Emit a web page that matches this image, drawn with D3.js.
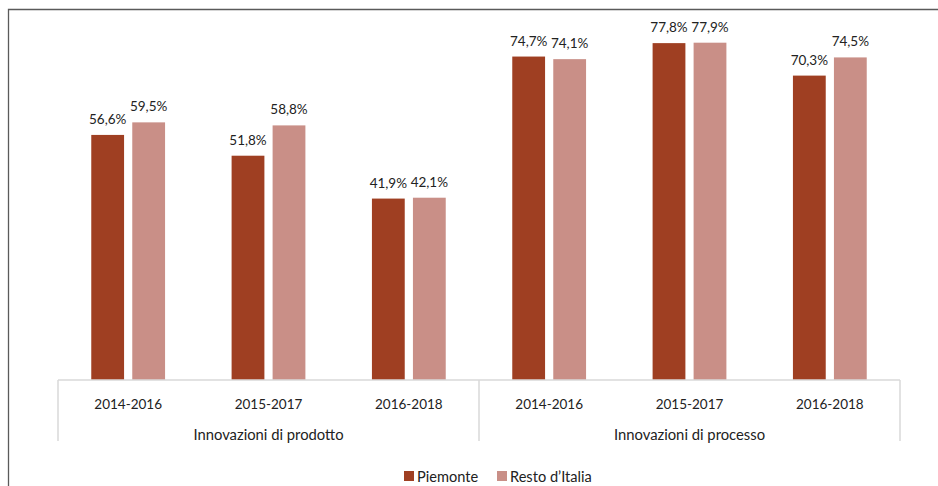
<!DOCTYPE html>
<html>
<head>
<meta charset="utf-8">
<script src="https://cdn.jsdelivr.net/npm/d3@7"></script>
<style>
  html, body { margin: 0; padding: 0; background: #fff; }
  svg { display: block; font-family: Lato, "Open Sans", sans-serif; }
</style>
</head>
<body>
<svg id="chart" width="938" height="486"></svg>
<script>
// Periods shown for each innovation type
const periods = ["2014-2016", "2015-2017", "2016-2018"];
const groups = ["Innovazioni di prodotto", "Innovazioni di processo"];
const seriesNames = ["Piemonte", "Resto d\u2019Italia"];
const seriesColors = ["#9F3F22", "#C98F87"];

// Share of firms (%) per period: product first, then process
const piemonte = [56.6, 51.8, 41.9, 74.7, 77.8, 70.3];
const restoItalia = [59.5, 58.8, 42.1, 74.1, 77.9, 74.5];

const categories = [];
groups.forEach((g, gi) => periods.forEach((p, pi) => categories.push({ id: gi + "|" + p, period: p, group: g, gi })));
const rows = categories.map((c, i) => ({ ...c, values: [piemonte[i], restoItalia[i]] }));

const svg = d3.select("#chart");
const left = 58, right = 900, baseY = 380;

const x0 = d3.scaleBand().domain(categories.map(c => c.id)).range([left, right]).padding(0);
const x1 = d3.scaleBand().domain(seriesNames).range([-41, 41]).paddingInner(0.2).paddingOuter(0.1);
const y = d3.scaleLinear().domain([0, 80]).range([baseY, 33.6]);
const fmt = v => d3.format(".1f")(v).replace(".", ",") + "%";

// Outer frame (top and left edges)
svg.append("path")
  .attr("d", "M8.5,486 V9.5 H938")
  .attr("fill", "none").attr("stroke", "#5a5a5a").attr("stroke-width", 1.3);

// Bars and value labels
const cat = svg.append("g").selectAll("g").data(rows).join("g")
  .attr("transform", d => `translate(${x0(d.id) + x0.bandwidth() / 2},0)`);

cat.selectAll("rect").data(d => d.values.map((v, i) => ({ v, s: seriesNames[i], i }))).join("rect")
  .attr("x", d => x1(d.s))
  .attr("width", x1.bandwidth())
  .attr("y", d => y(d.v))
  .attr("height", d => baseY - y(d.v))
  .attr("fill", d => seriesColors[d.i]);

cat.selectAll("text").data(d => d.values.map((v, i) => ({ v, s: seriesNames[i] }))).join("text")
  .attr("x", d => x1(d.s) + x1.bandwidth() / 2)
  .attr("y", d => y(d.v) - 11)
  .attr("text-anchor", "middle")
  .attr("font-size", 13.5)
  .attr("fill", "#222")
  .text(d => fmt(d.v));

// Category axis with period labels
const axis = svg.append("g").attr("transform", `translate(0,${baseY})`)
  .call(d3.axisBottom(x0).tickSize(0).tickPadding(0).tickFormat(id => id.split("|")[1]));
axis.select(".domain").remove();
axis.selectAll("text").attr("dy", 0).attr("y", 29).attr("font-size", 13.5)
  .attr("font-family", "Lato, 'Open Sans', sans-serif").attr("fill", "#222");

const lineColor = "#d9d9d9";
svg.append("line").attr("x1", left).attr("x2", right).attr("y1", baseY).attr("y2", baseY)
  .attr("stroke", lineColor).attr("stroke-width", 1.5);

// Group separators and group labels
const groupBounds = groups.map((g, gi) => {
  const ids = categories.filter(c => c.gi === gi).map(c => c.id);
  return { g, x0: x0(ids[0]), x1: x0(ids[ids.length - 1]) + x0.bandwidth() };
});
const seps = [groupBounds[0].x0, ...groupBounds.map(b => b.x1)];
svg.selectAll("line.sep").data(seps).join("line").attr("class", "sep")
  .attr("x1", d => d).attr("x2", d => d).attr("y1", baseY).attr("y2", 441)
  .attr("stroke", lineColor).attr("stroke-width", 1.5);

svg.selectAll("text.grp").data(groupBounds).join("text").attr("class", "grp")
  .attr("x", d => (d.x0 + d.x1) / 2).attr("y", 440)
  .attr("text-anchor", "middle").attr("font-size", 14.8).attr("fill", "#222")
  .text(d => d.g);

// Legend
const legendX = [404, 497];
const leg = svg.selectAll("g.leg").data(seriesNames).join("g").attr("class", "leg")
  .attr("transform", (d, i) => `translate(${legendX[i]},471)`);
leg.append("rect").attr("width", 10).attr("height", 10).attr("fill", (d, i) => seriesColors[i]);
leg.append("text").attr("x", 13).attr("y", 10.5).attr("font-size", 14.6).attr("fill", "#222").text(d => d);
</script>
</body>
</html>
